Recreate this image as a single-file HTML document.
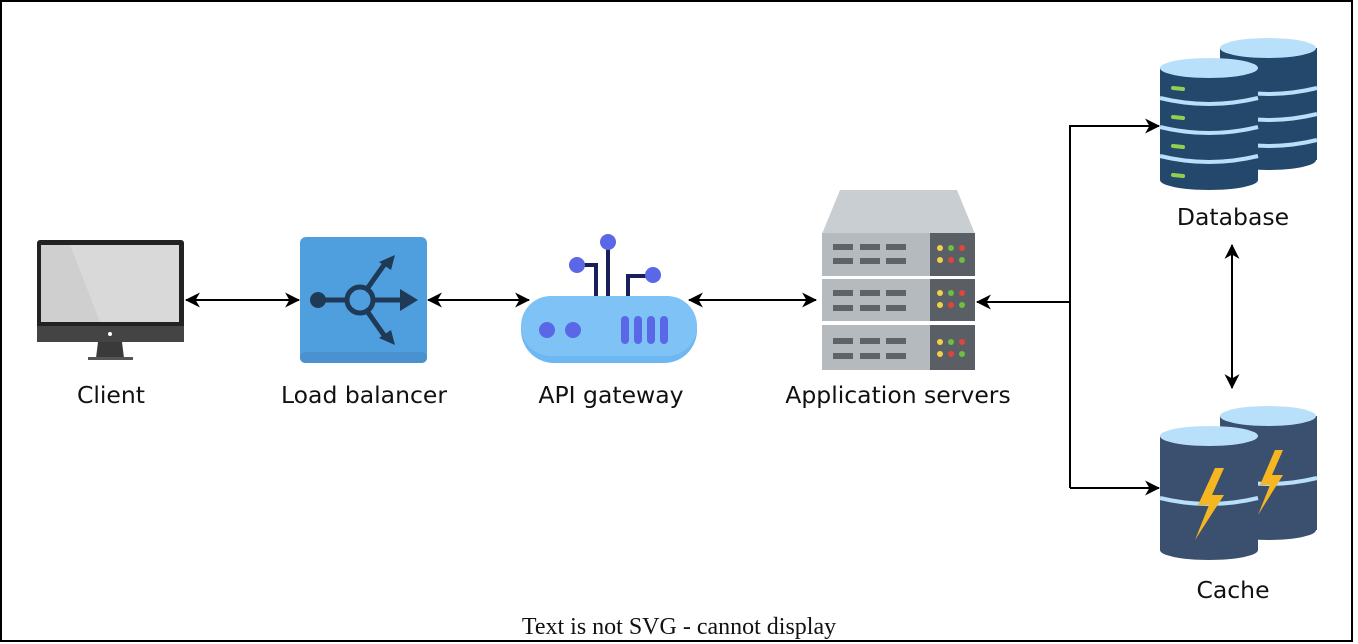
<!DOCTYPE html>
<html><head><meta charset="utf-8"><style>
html,body{margin:0;padding:0;background:#fff;}
svg{display:block;}
text{font-family:"DejaVu Sans","Liberation Sans",sans-serif;font-size:23.5px;fill:#111;}
</style></head><body>
<svg width="1358" height="644" viewBox="0 0 1358 644" xmlns="http://www.w3.org/2000/svg">
<defs>
<marker id="a" viewBox="0 0 14 14" refX="13" refY="7" markerWidth="15" markerHeight="15" orient="auto-start-reverse" markerUnits="userSpaceOnUse">
<path d="M0,0 L14,7 L0,14 L4,7 Z" fill="#000"/></marker>
</defs>
<rect x="1" y="1" width="1351" height="640" fill="#fff" stroke="#000" stroke-width="2"/>

<!-- Client monitor -->
<rect x="37" y="240" width="147" height="102" rx="3" fill="#222"/>
<rect x="41" y="245" width="138" height="77" fill="#d9d9d9"/>
<polygon points="41,245 70,245 100,322 41,322" fill="#cfcfcf"/>
<rect x="37" y="326" width="147" height="16" fill="#444"/>
<circle cx="110" cy="334" r="2" fill="#fff"/>
<polygon points="98,342 122,342 124,358 96,358" fill="#3a3a3a"/>
<rect x="88" y="357" width="45" height="3" fill="#555"/>

<!-- Load balancer -->
<rect x="300" y="237" width="127" height="126" rx="6" fill="#4f9fdf"/>
<rect x="300" y="352" width="127" height="11" rx="5" fill="#4a92cf"/>
<g stroke="#1f3a56" stroke-width="5" fill="none">
<line x1="318" y1="300" x2="347" y2="300"/>
<circle cx="360" cy="300" r="13"/>
<line x1="373" y1="300" x2="405" y2="300"/>
<line x1="367" y1="289" x2="386" y2="262"/>
<line x1="367" y1="311" x2="386" y2="338"/>
</g>
<circle cx="318" cy="300" r="8" fill="#1f3a56"/>
<polygon points="418,300 400,289 400,311" fill="#1f3a56"/>
<polygon points="395,255 379,262 391,270" fill="#1f3a56"/>
<polygon points="395,345 379,338 391,330" fill="#1f3a56"/>

<!-- API gateway -->
<g stroke="#1a1f5c" stroke-width="4" fill="none">
<line x1="608" y1="242" x2="608" y2="298"/>
<polyline points="578,265 596,265 596,298"/>
<polyline points="652,276 628,276 628,298"/>
</g>
<circle cx="608" cy="242" r="8" fill="#5a67e6"/>
<circle cx="577" cy="265" r="8" fill="#5a67e6"/>
<circle cx="653" cy="275" r="8" fill="#5a67e6"/>
<rect x="521" y="296" width="176" height="67" rx="33" fill="#6db7f2"/>
<rect x="521" y="296" width="176" height="60" rx="30" fill="#7ec2f6"/>
<circle cx="547" cy="330" r="8" fill="#5a67e6"/>
<circle cx="573" cy="330" r="8" fill="#5a67e6"/>
<g fill="#5a67e6"><rect x="621" y="316" width="8" height="28" rx="4"/><rect x="634" y="316" width="8" height="28" rx="4"/><rect x="647" y="316" width="8" height="28" rx="4"/><rect x="660" y="316" width="8" height="28" rx="4"/></g>

<!-- Application servers -->
<polygon points="822,234 840,190 957,190 975,234" fill="#c9ced2"/>
<g>
<rect x="822" y="233" width="153" height="43" fill="#b5babe"/><rect x="930" y="233" width="45" height="43" fill="#5a5f66"/>
<rect x="822" y="279" width="153" height="42" fill="#b5babe"/><rect x="930" y="279" width="45" height="42" fill="#5a5f66"/>
<rect x="822" y="325" width="153" height="45" fill="#b5babe"/><rect x="930" y="325" width="45" height="45" fill="#5a5f66"/>
</g>
<g fill="#5f6368">
<rect x="833" y="244" width="20" height="6"/><rect x="860" y="244" width="20" height="6"/><rect x="886" y="244" width="20" height="6"/>
<rect x="833" y="258" width="20" height="6"/><rect x="860" y="258" width="20" height="6"/><rect x="886" y="258" width="20" height="6"/>
<rect x="833" y="290" width="20" height="6"/><rect x="860" y="290" width="20" height="6"/><rect x="886" y="290" width="20" height="6"/>
<rect x="833" y="305" width="20" height="6"/><rect x="860" y="305" width="20" height="6"/><rect x="886" y="305" width="20" height="6"/>
<rect x="833" y="338" width="20" height="6"/><rect x="860" y="338" width="20" height="6"/><rect x="886" y="338" width="20" height="6"/>
<rect x="833" y="353" width="20" height="6"/><rect x="860" y="353" width="20" height="6"/><rect x="886" y="353" width="20" height="6"/>
</g>
<g>
<circle cx="940" cy="248" r="3" fill="#f2d04a"/><circle cx="951" cy="248" r="3" fill="#6cbf3f"/><circle cx="962" cy="248" r="3" fill="#e0443a"/>
<circle cx="940" cy="260" r="3" fill="#f2d04a"/><circle cx="951" cy="260" r="3" fill="#e0443a"/><circle cx="962" cy="260" r="3" fill="#6cbf3f"/>
<circle cx="940" cy="293" r="3" fill="#f2d04a"/><circle cx="951" cy="293" r="3" fill="#6cbf3f"/><circle cx="962" cy="293" r="3" fill="#e0443a"/>
<circle cx="940" cy="305" r="3" fill="#f2d04a"/><circle cx="951" cy="305" r="3" fill="#e0443a"/><circle cx="962" cy="305" r="3" fill="#6cbf3f"/>
<circle cx="940" cy="342" r="3" fill="#f2d04a"/><circle cx="951" cy="342" r="3" fill="#6cbf3f"/><circle cx="962" cy="342" r="3" fill="#e0443a"/>
<circle cx="940" cy="354" r="3" fill="#f2d04a"/><circle cx="951" cy="354" r="3" fill="#e0443a"/><circle cx="962" cy="354" r="3" fill="#6cbf3f"/>
</g>

<!-- Database -->
<g>
<rect x="1220" y="48" width="97" height="112" fill="#23486c"/>
<ellipse cx="1268" cy="160" rx="48" ry="10" fill="#23486c"/>
<ellipse cx="1268" cy="48" rx="48" ry="10" fill="#b9e0fa"/>
<path d="M1220,88 Q1268,100 1317,88 M1220,114 Q1268,126 1317,114 M1220,140 Q1268,152 1317,140" stroke="#b9e0fa" stroke-width="4" fill="none"/>
<rect x="1160" y="68" width="98" height="112" fill="#23486c"/>
<ellipse cx="1209" cy="180" rx="49" ry="10" fill="#23486c"/>
<ellipse cx="1209" cy="68" rx="49" ry="10" fill="#b9e0fa"/>
<path d="M1160,98 Q1209,110 1258,98 M1160,127 Q1209,139 1258,127 M1160,156 Q1209,168 1258,156" stroke="#b9e0fa" stroke-width="4" fill="none"/>
<g stroke="#8fd14f" stroke-width="4" stroke-linecap="round">
<line x1="1173" y1="88" x2="1183" y2="89"/>
<line x1="1173" y1="117" x2="1183" y2="118"/>
<line x1="1173" y1="146" x2="1183" y2="147"/>
<line x1="1173" y1="175" x2="1183" y2="176"/>
</g>
</g>

<!-- Cache -->
<g>
<rect x="1220" y="416" width="97" height="114" fill="#3b4f6e"/>
<ellipse cx="1268" cy="530" rx="48" ry="10" fill="#3b4f6e"/>
<ellipse cx="1268" cy="416" rx="48" ry="10" fill="#b9e0fa"/>
<path d="M1220,478 Q1268,490 1317,478" stroke="#b9e0fa" stroke-width="4" fill="none"/>
<polygon points="1275,450 1260,485 1270,485 1258,515 1283,475 1272,475 1283,450" fill="#f5b621"/>
<rect x="1160" y="436" width="98" height="114" fill="#3b4f6e"/>
<ellipse cx="1209" cy="550" rx="49" ry="10" fill="#3b4f6e"/>
<ellipse cx="1209" cy="436" rx="49" ry="10" fill="#b9e0fa"/>
<path d="M1160,498 Q1209,510 1258,498" stroke="#b9e0fa" stroke-width="4" fill="none"/>
<polygon points="1215,468 1198,505 1209,505 1195,540 1224,495 1212,495 1224,468" fill="#f5b621"/>
</g>

<!-- Connectors -->
<g stroke="#000" stroke-width="2" fill="none">
<line x1="186" y1="300" x2="299" y2="300" marker-start="url(#a)" marker-end="url(#a)"/>
<line x1="428" y1="300" x2="529" y2="300" marker-start="url(#a)" marker-end="url(#a)"/>
<line x1="689" y1="300" x2="816" y2="300" marker-start="url(#a)" marker-end="url(#a)"/>
<line x1="1070" y1="302" x2="977" y2="302" marker-end="url(#a)"/>
<polyline points="1070,488 1070,126 1159,126" marker-end="url(#a)"/>
<polyline points="1070,488 1159,488" marker-end="url(#a)"/>
<line x1="1232" y1="245" x2="1232" y2="388" marker-start="url(#a)" marker-end="url(#a)"/>
</g>

<!-- Labels -->
<text x="111" y="403" text-anchor="middle">Client</text>
<text x="364" y="403" text-anchor="middle">Load balancer</text>
<text x="611" y="403" text-anchor="middle">API gateway</text>
<text x="898" y="403" text-anchor="middle">Application servers</text>
<text x="1233" y="225" text-anchor="middle">Database</text>
<text x="1233" y="598" text-anchor="middle">Cache</text>
<text x="679" y="634" text-anchor="middle" style="font-family:'Liberation Serif','DejaVu Serif',serif;font-size:24px;">Text is not SVG - cannot display</text>
</svg>
</body></html>
